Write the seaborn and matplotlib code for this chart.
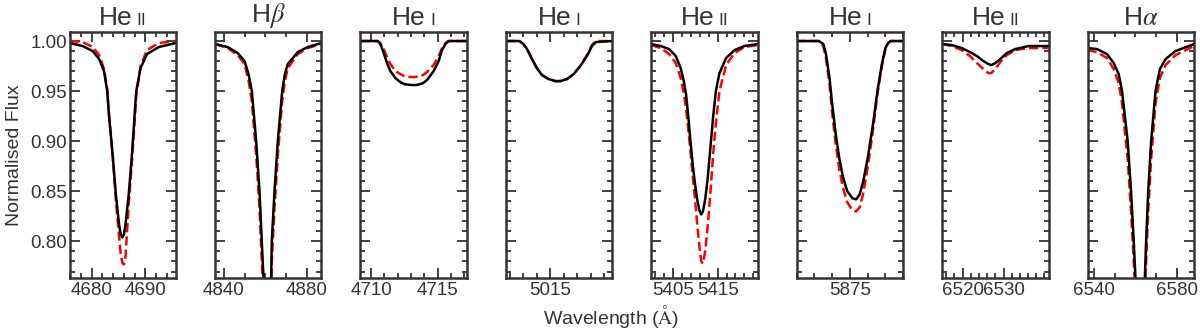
import numpy as np
import pandas as pd
import matplotlib
matplotlib.use('Agg')
import matplotlib.pyplot as plt
import seaborn as sns
from matplotlib.ticker import MultipleLocator
from matplotlib.offsetbox import TextArea, HPacker, AnchoredOffsetbox

# He II 4686
wl_p1 = [4676.0, 4678.3, 4680.2, 4681.4, 4682.3, 4682.9, 4683.2, 4683.9, 4684.5, 4685.1, 4685.4,
         4685.7, 4686.0, 4686.3, 4686.9, 4687.5, 4688.0, 4688.3, 4689.1, 4690.3, 4692.5, 4695.6]
solid_p1 = [0.998, 0.995, 0.990, 0.982, 0.970, 0.950, 0.927, 0.887, 0.847, 0.817, 0.807,
            0.804, 0.807, 0.817, 0.847, 0.887, 0.927, 0.950, 0.973, 0.987, 0.994, 0.998]
dashed_p1 = [1.000, 0.999, 0.994, 0.986, 0.972, 0.952, 0.929, 0.886, 0.842, 0.805, 0.788,
             0.779, 0.777, 0.785, 0.838, 0.880, 0.920, 0.946, 0.975, 0.991, 0.998, 1.000]

# H beta
wl_p2 = [4835.8, 4841.9, 4846.7, 4850.0, 4851.9, 4853.5, 4855.6, 4857.2, 4858.3, 4859.1, 4860.9,
         4862.8, 4863.1, 4864.4, 4866.0, 4868.1, 4869.4, 4870.8, 4875.6, 4880.4, 4886.9]
solid_p2 = [0.997, 0.994, 0.988, 0.980, 0.967, 0.950, 0.900, 0.850, 0.800, 0.764, 0.660,
            0.764, 0.800, 0.850, 0.900, 0.950, 0.967, 0.977, 0.989, 0.994, 0.998]
dashed_p2 = [0.997, 0.993, 0.986, 0.977, 0.961, 0.940, 0.886, 0.833, 0.780, 0.745, 0.650,
             0.745, 0.780, 0.833, 0.886, 0.940, 0.960, 0.973, 0.987, 0.993, 0.997]

# He I 4713
wl_p3 = [4709.25, 4710.5, 4710.7, 4710.95, 4711.2, 4711.45, 4711.83, 4712.2, 4712.5, 4712.9,
         4713.2, 4713.5, 4713.9, 4714.2, 4714.7, 4715.08, 4715.3, 4715.58, 4715.83, 4717.2]
solid_p3 = [1.000, 1.000, 0.997, 0.988, 0.978, 0.970, 0.963, 0.959, 0.957, 0.9563,
            0.956, 0.9563, 0.958, 0.961, 0.970, 0.980, 0.990, 0.997, 1.000, 1.000]
dashed_p3 = [1.000, 1.000, 0.998, 0.992, 0.984, 0.977, 0.970, 0.967, 0.965, 0.9642,
             0.964, 0.9645, 0.966, 0.969, 0.976, 0.985, 0.992, 0.998, 1.000, 1.000]

# He I 5015
wl_p4 = [5011.7, 5012.7, 5013.0, 5013.27, 5013.64, 5014.0, 5014.38, 5014.88, 5015.37, 5015.74,
         5016.23, 5016.73, 5017.22, 5017.72, 5018.09, 5018.38, 5019.57]
solid_p4 = [1.000, 1.000, 0.997, 0.992, 0.982, 0.973, 0.966, 0.962, 0.960, 0.960,
            0.962, 0.967, 0.975, 0.985, 0.995, 0.999, 1.000]
dashed_p4 = [1.000, 1.000, 0.997, 0.992, 0.982, 0.973, 0.966, 0.962, 0.960, 0.960,
             0.962, 0.967, 0.975, 0.986, 0.996, 1.000, 1.000]

# He II 5411
wl_p5 = [5400.1, 5402.2, 5404.1, 5405.6, 5406.7, 5407.4, 5407.9, 5408.4, 5408.9, 5409.4, 5409.9,
         5410.4, 5410.9, 5411.3, 5411.7, 5412.2, 5412.7, 5413.1, 5413.5, 5414.0, 5414.6, 5415.4,
         5416.9, 5418.8, 5421.0, 5424.0]
solid_p5 = [0.997, 0.995, 0.992, 0.985, 0.973, 0.960, 0.947, 0.925, 0.900, 0.877, 0.858,
            0.842, 0.831, 0.827, 0.830, 0.842, 0.860, 0.880, 0.900, 0.925, 0.950, 0.968,
            0.983, 0.991, 0.995, 0.997]
dashed_p5 = [0.996, 0.993, 0.987, 0.978, 0.963, 0.948, 0.933, 0.912, 0.890, 0.866, 0.843,
             0.818, 0.795, 0.780, 0.778, 0.790, 0.812, 0.833, 0.856, 0.888, 0.918, 0.950,
             0.976, 0.988, 0.994, 0.996]

# He I 5876
wl_p6 = [5869.0, 5871.5, 5872.0, 5872.3, 5872.7, 5873.0, 5873.4, 5873.8, 5874.2, 5874.7, 5875.3,
         5875.7, 5876.1, 5876.5, 5877.0, 5877.6, 5878.1, 5878.6, 5879.0, 5879.3, 5879.6, 5881.0]
solid_p6 = [1.000, 1.000, 0.997, 0.987, 0.963, 0.937, 0.907, 0.883, 0.865, 0.850, 0.843,
            0.842, 0.847, 0.860, 0.883, 0.917, 0.950, 0.977, 0.993, 0.998, 1.000, 1.000]
dashed_p6 = [1.000, 1.000, 0.995, 0.983, 0.957, 0.928, 0.897, 0.872, 0.854, 0.839, 0.831,
             0.830, 0.834, 0.848, 0.874, 0.911, 0.947, 0.975, 0.992, 0.998, 1.000, 1.000]

# He II 6527
wl_p7 = [6515.1, 6517.3, 6519.8, 6521.8, 6523.5, 6525.1, 6526.3, 6527.0, 6528.0, 6529.2,
         6530.8, 6532.9, 6536.1, 6541.0]
solid_p7 = [0.997, 0.996, 0.993, 0.989, 0.985, 0.980, 0.977, 0.976, 0.978, 0.982,
            0.988, 0.992, 0.995, 0.995]
dashed_p7 = [0.997, 0.995, 0.991, 0.985, 0.978, 0.972, 0.968, 0.968, 0.972, 0.979,
             0.986, 0.991, 0.993, 0.993]

# H alpha
wl_p8 = [6537.1, 6541.6, 6546.4, 6549.6, 6552.0, 6553.6, 6556.3, 6557.9, 6559.2, 6560.0, 6562.3,
         6564.5, 6565.1, 6566.1, 6567.5, 6569.6, 6571.7, 6574.4, 6579.2, 6588.0]
solid_p8 = [0.993, 0.992, 0.987, 0.978, 0.967, 0.950, 0.900, 0.850, 0.800, 0.764, 0.650,
            0.764, 0.800, 0.850, 0.900, 0.950, 0.972, 0.982, 0.990, 0.997]
dashed_p8 = [0.991, 0.989, 0.983, 0.972, 0.958, 0.938, 0.882, 0.830, 0.780, 0.745, 0.640,
             0.745, 0.780, 0.830, 0.882, 0.938, 0.963, 0.976, 0.986, 0.995]

# title parts: (text, small?)
titles = [[('He', False), ('II', True)], [('H$\\beta$', False)], [('He', False), ('I', True)],
          [('He', False), ('I', True)], [('He', False), ('II', True)], [('He', False), ('I', True)],
          [('He', False), ('II', True)], [('H$\\alpha$', False)]]
xlims = [(4675.9, 4695.7), (4835.8, 4887.0), (4709.2, 4717.2), (5011.7, 5019.6),
         (5400.1, 5424.0), (5869.0, 5881.0), (6515.0, 6541.0), (6537.1, 6588.0)]
xticks = [[4680, 4690], [4840, 4880], [4710, 4715], [5015],
          [5405, 5415], [5875], [6520, 6530], [6540, 6580]]
minor_steps = [(2, 0), (10, 0), (1, 0), (1, 0), (2, 1), (2, 1), (2, 0), (10, 0)]

wls = [wl_p1, wl_p2, wl_p3, wl_p4, wl_p5, wl_p6, wl_p7, wl_p8]
solids = [solid_p1, solid_p2, solid_p3, solid_p4, solid_p5, solid_p6, solid_p7, solid_p8]
dasheds = [dashed_p1, dashed_p2, dashed_p3, dashed_p4, dashed_p5, dashed_p6, dashed_p7, dashed_p8]

sns.set_theme(style='ticks')
plt.rcParams['font.family'] = ['Liberation Sans', 'DejaVu Sans']
plt.rcParams['mathtext.fontset'] = 'stix'
text_col = '#333333'

fig, axes = plt.subplots(1, 8, figsize=(12, 3.3), dpi=100, sharey=True)
fig.subplots_adjust(left=0.058, right=0.995, bottom=0.159, top=0.903, wspace=0.366)

for i, ax in enumerate(axes):
    sns.lineplot(x=wls[i], y=dasheds[i], ax=ax, color='red', lw=1.8, linestyle='--')
    sns.lineplot(x=wls[i], y=solids[i], ax=ax, color='black', lw=1.8)
    ax.set_xlim(xlims[i])
    ax.set_ylim(0.764, 1.009)
    ax.set_xticks(xticks[i], labels=[str(t) for t in xticks[i]])
    step, off = minor_steps[i]
    ax.xaxis.set_minor_locator(MultipleLocator(step, off))
    ax.yaxis.set_major_locator(MultipleLocator(0.05))
    ax.yaxis.set_minor_locator(MultipleLocator(0.01))
    ax.tick_params(which='both', direction='in', top=True, right=True, color=text_col,
                   width=1.3, labelsize=13.5, labelcolor=text_col)
    ax.tick_params(which='major', length=7)
    ax.tick_params(which='minor', length=3.5)
    ax.tick_params(axis='y', pad=2)
    for s in ax.spines.values():
        s.set_linewidth(1.8)
        s.set_color(text_col)
    ax.set_xlabel('')
    ax.set_ylabel('')

    parts = []
    for txt, small in titles[i]:
        parts.append(TextArea(txt, textprops=dict(fontsize=12.5 if small else 19, color=text_col)))
    box = HPacker(children=parts, align='baseline', pad=0, sep=3)
    anchored = AnchoredOffsetbox(loc='lower center', child=box, bbox_to_anchor=(0.5, 1.0),
                                 bbox_transform=ax.transAxes, frameon=False, pad=0, borderpad=0.1)
    ax.add_artist(anchored)

axes[0].set_ylabel('Normalised Flux', fontsize=14, color=text_col, labelpad=5)
fig.text(0.509, 0.042, 'Wavelength ($\\mathrm{\\AA}$)', ha='center', va='center',
         fontsize=14, color=text_col)

fig.savefig('out.png', dpi=100)
